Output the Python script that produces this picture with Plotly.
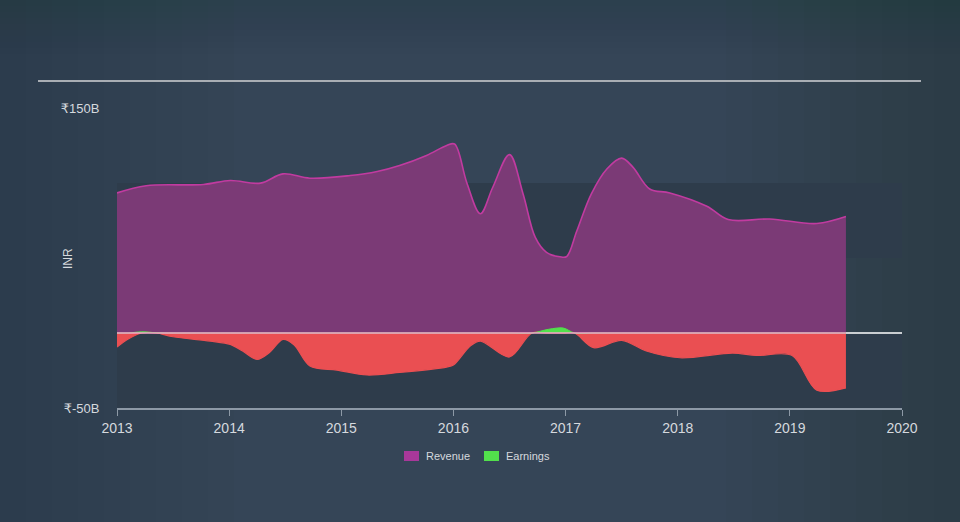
import numpy as np
import plotly.graph_objects as go

# ---- data (values in ₹ billions, x in decimal years) ----
rev_x = [2013.0, 2013.26, 2013.77, 2014.01, 2014.28, 2014.48, 2014.72, 2015.08, 2015.32,
         2015.52, 2015.76, 2015.94, 2016.01, 2016.12, 2016.24, 2016.35, 2016.5,
         2016.62, 2016.73, 2016.83, 2016.95, 2017.01, 2017.1, 2017.23, 2017.37, 2017.5,
         2017.6, 2017.75, 2017.93, 2018.26, 2018.45, 2018.82, 2019.24, 2019.5]
rev_y = [93.4, 98.2, 99.0, 101.7, 99.9, 106.1, 103.2, 105.0, 107.7,
         111.7, 118.4, 125.0, 126.0, 100.0, 79.5, 97.0, 118.9,
         93.0, 63.7, 53.7, 50.8, 51.0, 68.0, 92.8, 109.5, 116.6,
         110.6, 96.0, 93.4, 84.5, 75.6, 76.0, 73.0, 77.6]

earn_x = [2013.0, 2013.1, 2013.22, 2013.35, 2013.5, 2013.83, 2014.01, 2014.12, 2014.25,
          2014.36, 2014.48, 2014.58, 2014.72, 2014.96, 2015.23, 2015.52, 2015.94, 2016.0,
          2016.15, 2016.24, 2016.5, 2016.7, 2016.85, 2016.98, 2017.08, 2017.25, 2017.5,
          2017.72, 2018.02, 2018.49, 2018.7, 2019.02, 2019.24, 2019.5]
earn_y = [-9.4, -4.0, 0.8, 0.2, -2.5, -5.4, -7.6, -12.0, -17.6,
          -13.0, -4.3, -8.0, -22.0, -24.7, -28.0, -26.3, -22.7, -21.4,
          -8.7, -5.4, -16.0, 0.0, 2.5, 3.3, 0.0, -9.8, -4.9,
          -12.0, -16.5, -13.4, -15.0, -15.0, -38.1, -36.6]

x_ticks = [2013, 2014, 2015, 2016, 2017, 2018, 2019, 2020]
x_ticktext = ["2013", "2014", "2015", "2016", "2017", "2018", "2019", "2020"]
y_ticks = [150, -50]
y_ticktext = ["₹150B", "₹-50B"]
legend_names = ["Revenue", "Earnings"]

# ---- styles ----
BG = "#354557"
BAND = "#2e3c4b"
REV_LINE = "#c13ba0"
REV_FILL = "#7b3a76"
NEG = "#ea4f52"
POS = "#52e04c"
TXT = "#d5d9de"
FONT = "Liberation Sans, Arial, DejaVu Sans, sans-serif"

# plot area in pixels: x 117..902, y 108..408
PL, PR, PT, PB = 117, 902, 108, 408
def px(x):
    return (x - PL) / (PR - PL)
def py(y):
    return (PB - y) / (PB - PT)

earn_neg = np.minimum(np.array(earn_y), 0).tolist()
earn_pos = np.maximum(np.array(earn_y), 0).tolist()

fig = go.Figure()
fig.add_trace(go.Scatter(x=rev_x, y=rev_y, mode="lines", fill="tozeroy",
                         line=dict(color=REV_LINE, width=1.6, shape="spline", smoothing=1.0),
                         fillcolor=REV_FILL, showlegend=False, hoverinfo="skip"))
fig.add_trace(go.Scatter(x=earn_x, y=earn_neg, mode="lines", fill="tozeroy",
                         line=dict(color=NEG, width=1.2, shape="spline", smoothing=0.9),
                         fillcolor=NEG, showlegend=False, hoverinfo="skip"))
fig.add_trace(go.Scatter(x=earn_x, y=earn_pos, mode="lines", fill="tozeroy",
                         line=dict(color=POS, width=1, shape="spline", smoothing=0.9),
                         fillcolor=POS, showlegend=False, hoverinfo="skip"))

shapes = []
# subtle vignette background
n = 10
for i in range(n):
    f = (i + 1) / n
    shapes.append(dict(type="rect", xref="paper", yref="paper", x0=px(-50), x1=px(260 * (1 - f)),
                       y0=py(700), y1=py(-200), fillcolor="#1c2430", opacity=0.022, line_width=0, layer="below"))
    shapes.append(dict(type="rect", xref="paper", yref="paper", x0=px(960 - 260 * (1 - f)), x1=px(1010),
                       y0=py(700), y1=py(-200), fillcolor="#1c2430", opacity=0.028, line_width=0, layer="below"))
    shapes.append(dict(type="rect", xref="paper", yref="paper", x0=px(-50), x1=px(1010),
                       y0=py(60 * (1 - f)), y1=py(-200), fillcolor="#1c2430", opacity=0.015, line_width=0, layer="below"))
# bands
shapes.append(dict(type="rect", xref="x", yref="y", x0=x_ticks[0], x1=x_ticks[-1], y0=50, y1=100,
                   fillcolor=BAND, line_width=0, layer="below"))
shapes.append(dict(type="rect", xref="x", yref="y", x0=x_ticks[0], x1=x_ticks[-1], y0=-50, y1=0,
                   fillcolor=BAND, line_width=0, layer="below"))
# zero line
shapes.append(dict(type="line", xref="x", yref="y", x0=rev_x[0], x1=rev_x[-1], y0=0, y1=0,
                   line=dict(color="#f4a6cc", width=1.5), layer="above"))
shapes.append(dict(type="line", xref="x", yref="y", x0=rev_x[-1], x1=x_ticks[-1], y0=0, y1=0,
                   line=dict(color="#ffffff", width=1.5), layer="above"))
# top rule
shapes.append(dict(type="line", xref="paper", yref="paper", x0=px(38), x1=px(921),
                   y0=py(81), y1=py(81), line=dict(color="#a9aeb4", width=2)))
# manual legend swatches
legend_colors = ["#a8389a", POS]
legend_x = [404, 484]
for c, lx in zip(legend_colors, legend_x):
    shapes.append(dict(type="rect", xref="paper", yref="paper", x0=px(lx), x1=px(lx + 15),
                       y0=py(461), y1=py(451), fillcolor=c, line_width=0))

annotations = [dict(text="INR", textangle=-90, xref="paper", yref="paper", x=px(68), y=py(259),
                    showarrow=False, font=dict(size=12, color=TXT), xanchor="center", yanchor="middle")]
for name, lx in zip(legend_names, legend_x):
    annotations.append(dict(text=name, xref="paper", yref="paper", x=px(lx + 20), y=py(456),
                            showarrow=False, xanchor="left", yanchor="middle",
                            font=dict(size=11, color=TXT)))

fig.update_layout(
    width=960, height=522,
    margin=dict(l=PL, r=960 - PR, t=PT, b=522 - PB),
    paper_bgcolor=BG, plot_bgcolor="rgba(0,0,0,0)",
    font=dict(family=FONT, color=TXT, size=13),
    shapes=shapes, annotations=annotations,
    showlegend=False,
    xaxis=dict(range=[x_ticks[0], x_ticks[-1]], tickvals=x_ticks, ticktext=x_ticktext,
               showgrid=False, zeroline=False, showline=True, linecolor="#8d99a6", linewidth=1.5,
               ticks="outside", ticklen=6, tickcolor="#8d99a6", tickfont=dict(size=14, color=TXT)),
    yaxis=dict(range=[-50, 150], tickvals=y_ticks, ticktext=y_ticktext, showgrid=False,
               zeroline=False, showline=False, ticks="outside", ticklen=14,
               tickcolor="rgba(0,0,0,0)", tickfont=dict(size=13, color=TXT)),
)

fig.write_html("out.html")
